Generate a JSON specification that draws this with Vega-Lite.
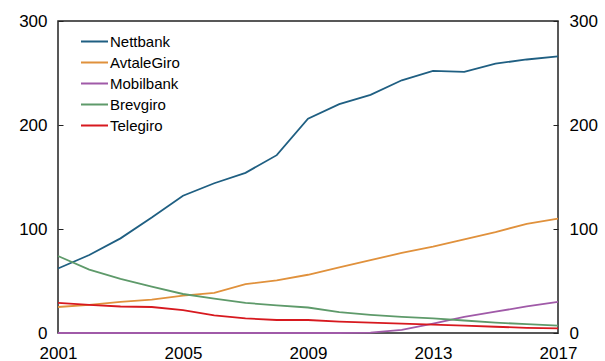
{
  "$schema": "https://vega.github.io/schema/vega-lite/v6.json",
  "width": 500,
  "height": 312,
  "autosize": {"type": "none"},
  "padding": {"left": 58, "top": 21, "right": 47, "bottom": 28},
  "background": "white",
  "config": {
    "font": "Liberation Sans",
    "view": {"stroke": "#222", "strokeWidth": 1.5},
    "axis": {"grid": false, "domain": false, "labelFont": "Liberation Sans", "labelFontSize": 17, "labelColor": "#000", "tickColor": "#222"}
  },
  "data": {"values": [
    {"year":2001,"s":"Nettbank","v":62},{"year":2002,"s":"Nettbank","v":75},{"year":2003,"s":"Nettbank","v":91},{"year":2004,"s":"Nettbank","v":111},{"year":2005,"s":"Nettbank","v":132},{"year":2006,"s":"Nettbank","v":144},{"year":2007,"s":"Nettbank","v":154},{"year":2008,"s":"Nettbank","v":171},{"year":2009,"s":"Nettbank","v":206},{"year":2010,"s":"Nettbank","v":220},{"year":2011,"s":"Nettbank","v":229},{"year":2012,"s":"Nettbank","v":243},{"year":2013,"s":"Nettbank","v":252},{"year":2014,"s":"Nettbank","v":251},{"year":2015,"s":"Nettbank","v":259},{"year":2016,"s":"Nettbank","v":263},{"year":2017,"s":"Nettbank","v":266},
    {"year":2001,"s":"AvtaleGiro","v":25},{"year":2002,"s":"AvtaleGiro","v":27},{"year":2003,"s":"AvtaleGiro","v":30},{"year":2004,"s":"AvtaleGiro","v":32},{"year":2005,"s":"AvtaleGiro","v":36},{"year":2006,"s":"AvtaleGiro","v":38.5},{"year":2007,"s":"AvtaleGiro","v":47},{"year":2008,"s":"AvtaleGiro","v":50.5},{"year":2009,"s":"AvtaleGiro","v":56},{"year":2010,"s":"AvtaleGiro","v":63},{"year":2011,"s":"AvtaleGiro","v":70},{"year":2012,"s":"AvtaleGiro","v":77},{"year":2013,"s":"AvtaleGiro","v":83},{"year":2014,"s":"AvtaleGiro","v":90},{"year":2015,"s":"AvtaleGiro","v":97},{"year":2016,"s":"AvtaleGiro","v":105},{"year":2017,"s":"AvtaleGiro","v":110},
    {"year":2001,"s":"Mobilbank","v":0},{"year":2002,"s":"Mobilbank","v":0},{"year":2003,"s":"Mobilbank","v":0},{"year":2004,"s":"Mobilbank","v":0},{"year":2005,"s":"Mobilbank","v":0},{"year":2006,"s":"Mobilbank","v":0},{"year":2007,"s":"Mobilbank","v":0},{"year":2008,"s":"Mobilbank","v":0},{"year":2009,"s":"Mobilbank","v":0},{"year":2010,"s":"Mobilbank","v":0},{"year":2011,"s":"Mobilbank","v":0.3},{"year":2012,"s":"Mobilbank","v":3},{"year":2013,"s":"Mobilbank","v":9},{"year":2014,"s":"Mobilbank","v":15.5},{"year":2015,"s":"Mobilbank","v":20.5},{"year":2016,"s":"Mobilbank","v":25.5},{"year":2017,"s":"Mobilbank","v":30},
    {"year":2001,"s":"Brevgiro","v":74},{"year":2002,"s":"Brevgiro","v":61},{"year":2003,"s":"Brevgiro","v":52},{"year":2004,"s":"Brevgiro","v":44.5},{"year":2005,"s":"Brevgiro","v":37.5},{"year":2006,"s":"Brevgiro","v":33},{"year":2007,"s":"Brevgiro","v":29},{"year":2008,"s":"Brevgiro","v":26.5},{"year":2009,"s":"Brevgiro","v":24.5},{"year":2010,"s":"Brevgiro","v":20},{"year":2011,"s":"Brevgiro","v":17.5},{"year":2012,"s":"Brevgiro","v":15.5},{"year":2013,"s":"Brevgiro","v":14},{"year":2014,"s":"Brevgiro","v":12},{"year":2015,"s":"Brevgiro","v":10},{"year":2016,"s":"Brevgiro","v":8.5},{"year":2017,"s":"Brevgiro","v":7},
    {"year":2001,"s":"Telegiro","v":29},{"year":2002,"s":"Telegiro","v":27},{"year":2003,"s":"Telegiro","v":25.5},{"year":2004,"s":"Telegiro","v":25},{"year":2005,"s":"Telegiro","v":22},{"year":2006,"s":"Telegiro","v":17},{"year":2007,"s":"Telegiro","v":14},{"year":2008,"s":"Telegiro","v":12.5},{"year":2009,"s":"Telegiro","v":12.5},{"year":2010,"s":"Telegiro","v":11},{"year":2011,"s":"Telegiro","v":10},{"year":2012,"s":"Telegiro","v":9},{"year":2013,"s":"Telegiro","v":8},{"year":2014,"s":"Telegiro","v":7},{"year":2015,"s":"Telegiro","v":6},{"year":2016,"s":"Telegiro","v":5},{"year":2017,"s":"Telegiro","v":4.5}
  ]},
  "resolve": {"axis": {"y": "independent"}},
  "layer": [
    {
      "mark": {"type": "line", "strokeWidth": 1.8},
      "encoding": {
        "x": {"field": "year", "type": "quantitative", "scale": {"domain": [2001, 2017], "nice": false, "zero": false},
              "axis": {"title": null, "values": [2001, 2005, 2009, 2013, 2017], "format": "d", "ticks": false, "labelPadding": 12, "labelFlush": false}},
        "y": {"field": "v", "type": "quantitative", "scale": {"domain": [0, 300], "nice": false},
              "axis": {"title": null, "values": [0, 100, 200, 300], "tickSize": -5, "labelPadding": 16}},
        "color": {"field": "s", "type": "nominal",
                  "scale": {"domain": ["Nettbank", "AvtaleGiro", "Mobilbank", "Brevgiro", "Telegiro"],
                            "range": ["#1f5f82", "#e0913c", "#a05aa8", "#5e9a6a", "#d7191f"]},
                  "legend": {"title": null, "orient": "none", "legendX": 22, "legendY": 11, "symbolType": "stroke", "symbolSize": 729, "symbolStrokeWidth": 2, "labelFontSize": 15, "labelFont": "Liberation Sans", "labelColor": "#000", "rowPadding": 2, "labelOffset": 1, "clipHeight": 19}}
      }
    },
    {
      "mark": {"type": "line", "opacity": 0},
      "encoding": {
        "x": {"field": "year", "type": "quantitative"},
        "y": {"field": "v", "type": "quantitative",
              "axis": {"title": null, "orient": "right", "values": [0, 100, 200, 300], "tickSize": -5, "labelPadding": 16}},
        "detail": {"field": "s"}
      }
    }
  ]
}
